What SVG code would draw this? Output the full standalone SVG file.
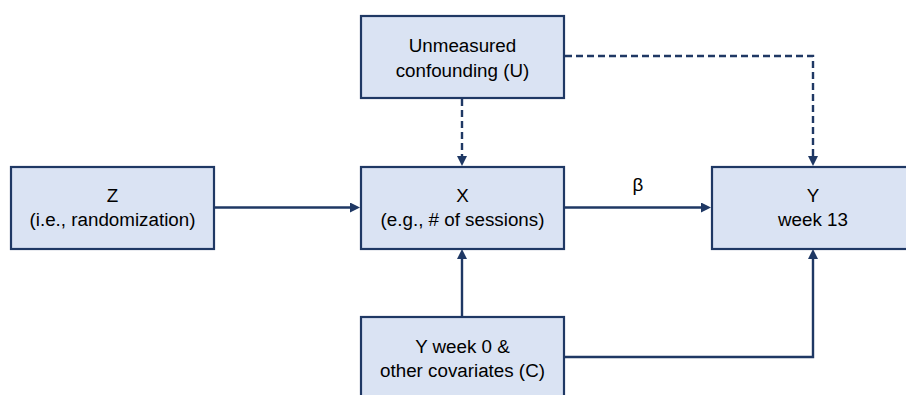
<svg xmlns="http://www.w3.org/2000/svg" width="906" height="395" viewBox="0 0 906 395">
<style>
.box{fill:#DAE3F3;stroke:#1F3864;stroke-width:2.2}
.t{font-family:"Liberation Sans",Arial,sans-serif;font-size:18.8px;fill:#000;text-anchor:middle}
.ln{fill:none;stroke:#1F3864;stroke-width:2.4}
.dash{stroke-dasharray:7 4}
</style>
<defs>
<marker id="ah" viewBox="0 0 10 10" refX="0" refY="5" markerWidth="10" markerHeight="10" markerUnits="userSpaceOnUse" orient="auto">
<path d="M0,0 L10,5 L0,10 z" fill="#1F3864"/>
</marker>
</defs>
<g id="connectors">
<path class="ln dash" d="M462,99 V156" marker-end="url(#ah)"/>
<path class="ln dash" d="M565,56 H813 V156" marker-end="url(#ah)"/>
<path class="ln" d="M215,207.5 H350" marker-end="url(#ah)"/>
<path class="ln" d="M565,207.5 H701" marker-end="url(#ah)"/>
<path class="ln" d="M462,316 V259" marker-end="url(#ah)"/>
<path class="ln" d="M565,357 H813 V259" marker-end="url(#ah)"/>
<text class="t" x="638" y="191">β</text>
</g>
<g id="U">
<rect class="box" x="361" y="16" width="203" height="82"/>
<text class="t" x="462.5" y="52">Unmeasured</text>
<text class="t" x="462.5" y="77">confounding (U)</text>
</g>
<g id="Z">
<rect class="box" x="11" y="167" width="203" height="82"/>
<text class="t" x="112.5" y="202">Z</text>
<text class="t" x="112.5" y="226">(i.e., randomization)</text>
</g>
<g id="X">
<rect class="box" x="361" y="167" width="203" height="82"/>
<text class="t" x="462.5" y="202">X</text>
<text class="t" x="462.5" y="226">(e.g., # of sessions)</text>
</g>
<g id="Y">
<rect class="box" x="712" y="167" width="203" height="82"/>
<text class="t" x="813" y="202">Y</text>
<text class="t" x="813" y="226">week 13</text>
</g>
<g id="C">
<rect class="box" x="361" y="317" width="203" height="84"/>
<text class="t" x="462.5" y="353">Y week 0 &amp;</text>
<text class="t" x="462.5" y="377">other covariates (C)</text>
</g>
</svg>
